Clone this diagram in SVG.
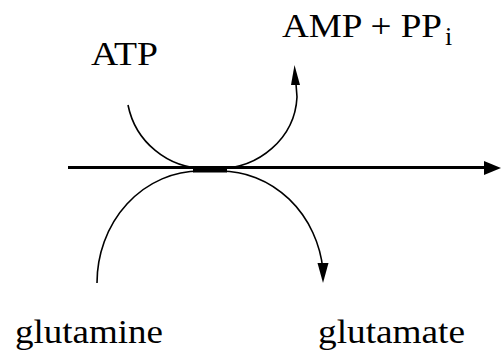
<svg xmlns="http://www.w3.org/2000/svg" width="502" height="353" viewBox="0 0 502 353">
<style>
.lbl{font-family:"Liberation Serif","Times New Roman",serif;font-size:34px;fill:#000}
.arc{fill:none;stroke:#000;stroke-width:1.6}
.head{fill:#000;stroke:none}
</style>
<rect width="502" height="353" fill="#fff"/>
<g id="connectors">
<line x1="68" y1="167.5" x2="488" y2="167.5" stroke="#000" stroke-width="3.2"/>
<polygon class="head" points="484,161 501,168 484,175"/>
<path class="arc" d="M128,105 A79,79 0 0,0 205,168.5"/>
<path class="arc" d="M216,168.5 A79,75 0 0,0 297,97 L296,84"/>
<polygon class="head" points="291,85 294.5,65 300,85"/>
<path class="arc" d="M97,283 A103,112 0 0,1 200,171"/>
<path class="arc" d="M220,171 A103,111 0 0,1 323,270"/>
<polygon class="head" points="317.5,263 323,283 328.5,263"/>
<rect x="193" y="166" width="34" height="6.5" fill="#000"/>
</g>
<g id="atp"><text class="lbl" x="91" y="65" textLength="67" lengthAdjust="spacingAndGlyphs">ATP</text></g>
<g id="amp"><text class="lbl" x="282" y="37"><tspan textLength="160" lengthAdjust="spacingAndGlyphs">AMP + PP</tspan><tspan x="445" y="45" font-size="26">i</tspan></text></g>
<g id="glutamine"><text class="lbl" x="15" y="343" textLength="148" lengthAdjust="spacingAndGlyphs">glutamine</text></g>
<g id="glutamate"><text class="lbl" x="318" y="343" textLength="147" lengthAdjust="spacingAndGlyphs">glutamate</text></g>
</svg>
